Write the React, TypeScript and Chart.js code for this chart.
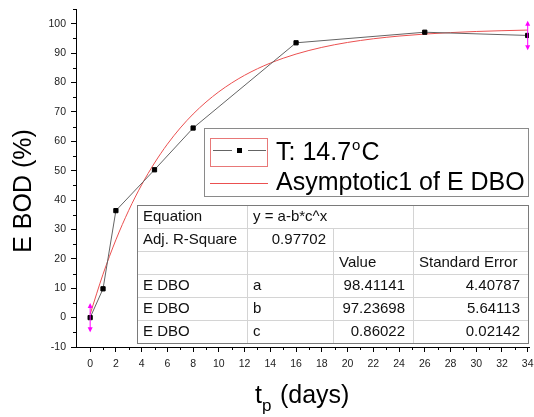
import React, { useEffect, useRef } from 'react';
import { Chart, registerables } from 'chart.js';

Chart.register(...registerables);

// ---- data ----
const measDays = [0, 1, 2, 5, 8, 16, 26, 34];
const measBod = [0, 9.8, 36.4, 50.3, 64.5, 93.5, 97.1, 96.0];

const errDays = [0, 34];
const errCenter = [0, 96];
const errHalf = [5, 5];

const fitDays = [0, 1, 2, 3, 4, 5, 6, 7, 8, 9, 10, 11, 12, 13, 14, 15, 16, 17, 18, 19, 20, 22, 24, 26, 28, 30, 32, 34];
const fitBod = [1.17, 14.76, 26.46, 36.51, 45.17, 52.61, 59.01, 64.52, 69.26, 73.33, 76.84, 79.85, 82.45, 84.68, 86.6, 88.25, 89.67, 90.89, 91.94, 92.85, 93.62, 94.87, 95.79, 96.47, 96.97, 97.35, 97.62, 97.83];

const xMinorTicks = [1, 3, 5, 7, 9, 11, 13, 15, 17, 19, 21, 23, 25, 27, 29, 31, 33];
const yMinorTicks = [-5, 5, 15, 25, 35, 45, 55, 65, 75, 85, 95, 105];

const seriesName = 'T: 14.7';
const seriesUnit = 'C';
const fitName = 'Asymptotic1 of E DBO';
const yTitle = 'E BOD (%)';
const xTitleMain = 't';
const xTitleSub = 'p';
const xTitleRest = ' (days)';

const tableCol0 = ['Equation', 'Adj. R-Square', '', 'E DBO', 'E DBO', 'E DBO'];
const tableCol1 = ['y = a-b*c^x', '0.97702', '', 'a', 'b', 'c'];
const tableCol2 = ['', '', 'Value', '98.41141', '97.23698', '0.86022'];
const tableCol3 = ['', '', 'Standard Error', '4.40787', '5.64113', '0.02142'];

const FONT = '"Liberation Sans", Arial, sans-serif';

const overlayPlugin = {
  id: 'overlay',
  afterDraw(chart: any) {
    const ctx: CanvasRenderingContext2D = chart.ctx;
    const xs = chart.scales.x;
    const ys = chart.scales.y;
    const ca = chart.chartArea;
    ctx.save();

    // minor ticks
    ctx.strokeStyle = '#000';
    ctx.lineWidth = 1;
    ctx.beginPath();
    for (const v of xMinorTicks) {
      const px = Math.round(xs.getPixelForValue(v)) + 0.5;
      ctx.moveTo(px, ca.bottom);
      ctx.lineTo(px, ca.bottom + 3);
    }
    for (const v of yMinorTicks) {
      const py = Math.round(ys.getPixelForValue(v)) + 0.5;
      ctx.moveTo(ca.left, py);
      ctx.lineTo(ca.left - 3, py);
    }
    ctx.stroke();

    // error bars
    ctx.strokeStyle = 'rgb(255,0,255)';
    ctx.fillStyle = 'rgb(255,0,255)';
    for (let i = 0; i < errDays.length; i++) {
      const px = xs.getPixelForValue(errDays[i]);
      const top = ys.getPixelForValue(errCenter[i] + errHalf[i]);
      const bot = ys.getPixelForValue(errCenter[i] - errHalf[i]);
      ctx.beginPath();
      ctx.moveTo(px, top + 2);
      ctx.lineTo(px, bot - 2);
      ctx.stroke();
      ctx.beginPath();
      ctx.moveTo(px, top);
      ctx.lineTo(px - 2.5, top + 5);
      ctx.lineTo(px + 2.5, top + 5);
      ctx.closePath();
      ctx.fill();
      ctx.beginPath();
      ctx.moveTo(px, bot);
      ctx.lineTo(px - 2.5, bot - 5);
      ctx.lineTo(px + 2.5, bot - 5);
      ctx.closePath();
      ctx.fill();
    }

    // legend
    ctx.fillStyle = '#fff';
    ctx.fillRect(204, 128, 325, 69);
    ctx.strokeStyle = '#8a8a8a';
    ctx.lineWidth = 1;
    ctx.strokeRect(204.5, 128.5, 324, 68);
    ctx.strokeStyle = 'rgb(232,120,120)';
    ctx.strokeRect(210.5, 138.5, 57, 28);
    ctx.strokeStyle = 'rgb(100,100,100)';
    ctx.beginPath();
    ctx.moveTo(213, 150.5);
    ctx.lineTo(232, 150.5);
    ctx.moveTo(248, 150.5);
    ctx.lineTo(266, 150.5);
    ctx.stroke();
    ctx.fillStyle = '#000';
    ctx.fillRect(237, 148, 5, 5);
    ctx.strokeStyle = 'rgb(235,80,80)';
    ctx.beginPath();
    ctx.moveTo(210, 183.5);
    ctx.lineTo(268, 183.5);
    ctx.stroke();

    ctx.fillStyle = '#000';
    ctx.textBaseline = 'alphabetic';
    ctx.textAlign = 'left';
    ctx.font = `25px ${FONT}`;
    ctx.fillText(seriesName, 276, 160);
    const w = ctx.measureText(seriesName).width;
    ctx.font = `15px ${FONT}`;
    ctx.fillText('o', 276 + w + 1, 150);
    const wo = ctx.measureText('o').width;
    ctx.font = `25px ${FONT}`;
    ctx.fillText(seriesUnit, 276 + w + wo + 2, 160);
    ctx.fillText(fitName, 276, 190);

    // table
    const colX = [137, 247, 333, 413, 528];
    const top = 205;
    const rowH = 23.05;
    const nRows = 6;
    ctx.fillStyle = '#fff';
    ctx.fillRect(colX[0], top, colX[4] - colX[0], rowH * nRows);
    ctx.strokeStyle = '#d4d4d4';
    ctx.beginPath();
    for (let r = 1; r < nRows; r++) {
      const y = Math.round(top + r * rowH) + 0.5;
      ctx.moveTo(colX[0], y);
      ctx.lineTo(colX[4], y);
    }
    ctx.moveTo(colX[1] + 0.5, top);
    ctx.lineTo(colX[1] + 0.5, top + rowH * nRows);
    ctx.moveTo(colX[2] + 0.5, top + rowH);
    ctx.lineTo(colX[2] + 0.5, top + rowH * nRows);
    ctx.moveTo(colX[3] + 0.5, top);
    ctx.lineTo(colX[3] + 0.5, top + rowH * nRows);
    ctx.stroke();
    ctx.strokeStyle = '#7a7a7a';
    ctx.strokeRect(colX[0] + 0.5, top + 0.5, colX[4] - colX[0], Math.round(rowH * nRows));

    ctx.fillStyle = '#111';
    ctx.font = `15px ${FONT}`;
    ctx.textBaseline = 'alphabetic';
    for (let r = 0; r < nRows; r++) {
      const by = top + r * rowH + 16;
      ctx.textAlign = 'left';
      ctx.fillText(tableCol0[r], colX[0] + 6, by);
      if (r === 1) {
        ctx.textAlign = 'right';
        ctx.fillText(tableCol1[r], colX[2] - 7, by);
      } else {
        ctx.textAlign = 'left';
        ctx.fillText(tableCol1[r], colX[1] + 6, by);
      }
      if (r === 2) {
        ctx.textAlign = 'left';
        ctx.fillText(tableCol2[r], colX[2] + 6, by);
        ctx.fillText(tableCol3[r], colX[3] + 6, by);
      } else {
        ctx.textAlign = 'right';
        ctx.fillText(tableCol2[r], colX[3] - 8, by);
        ctx.fillText(tableCol3[r], colX[4] - 8, by);
      }
    }

    // axis titles
    ctx.fillStyle = '#000';
    ctx.font = `25px ${FONT}`;
    ctx.save();
    ctx.translate(31, 191);
    ctx.rotate(-Math.PI / 2);
    ctx.textAlign = 'center';
    ctx.textBaseline = 'alphabetic';
    ctx.fillText(yTitle, 0, 0);
    ctx.restore();

    ctx.textAlign = 'left';
    ctx.textBaseline = 'alphabetic';
    ctx.font = `25px ${FONT}`;
    ctx.fillText(xTitleMain, 255, 403);
    const wt = ctx.measureText(xTitleMain).width;
    ctx.font = `17px ${FONT}`;
    ctx.fillText(xTitleSub, 255 + wt, 411);
    ctx.font = `25px ${FONT}`;
    ctx.fillText(xTitleRest, 273, 403);

    ctx.restore();
  },
};

export default function App() {
  const ref = useRef<HTMLCanvasElement | null>(null);
  useEffect(() => {
    if (!ref.current) return;
    Chart.defaults.font.family = FONT;
    const chart = new Chart(ref.current, {
      type: 'scatter',
      data: {
        datasets: [
          {
            label: seriesName,
            data: measDays.map((d, i) => ({ x: d, y: measBod[i] })),
            showLine: true,
            borderColor: 'rgb(100,100,100)',
            borderWidth: 1,
            pointStyle: 'rect',
            pointRadius: 3,
            pointBorderWidth: 1,
            pointBackgroundColor: '#000',
            pointBorderColor: '#000',
            order: 1,
          },
          {
            label: fitName,
            data: fitDays.map((d, i) => ({ x: d, y: fitBod[i] })),
            showLine: true,
            borderColor: 'rgb(235,80,80)',
            borderWidth: 1,
            pointRadius: 0,
            cubicInterpolationMode: 'monotone',
            order: 2,
          },
        ],
      },
      options: {
        animation: false,
        responsive: false,
        devicePixelRatio: 1,
        layout: { padding: { top: 9, right: 3, left: 0, bottom: 0 } },
        plugins: { legend: { display: false }, tooltip: { enabled: false } },
        scales: {
          x: {
            type: 'linear',
            min: -1.1,
            max: 34.1,
            grid: { display: true, drawOnChartArea: false, drawTicks: true, tickLength: 5, color: '#000', tickColor: '#000' },
            border: { display: true, color: '#000', width: 1 },
            ticks: { stepSize: 2, includeBounds: false, autoSkip: false, maxRotation: 0, padding: 6, color: '#222', font: { size: 10.5 } },
            afterFit: (s: any) => {
              s.height = 70;
              s.paddingLeft = 0;
              s.paddingRight = 0;
            },
          },
          y: {
            type: 'linear',
            min: -10,
            max: 105,
            grid: { display: true, drawOnChartArea: false, drawTicks: true, tickLength: 5, color: '#000', tickColor: '#000' },
            border: { display: true, color: '#000', width: 1 },
            ticks: { stepSize: 10, includeBounds: false, autoSkip: false, padding: 5, color: '#222', font: { size: 10.5 } },
            afterFit: (s: any) => {
              s.width = 76;
              s.paddingTop = 0;
              s.paddingBottom = 0;
            },
          },
        },
      },
      plugins: [overlayPlugin],
    } as any);
    return () => chart.destroy();
  }, []);
  return (
    <div style={{ position: 'absolute', left: 0, top: 0, width: 534, height: 417, background: '#fff' }}>
      <canvas ref={ref} width={534} height={417} style={{ display: 'block', width: 534, height: 417 }} />
    </div>
  );
}
